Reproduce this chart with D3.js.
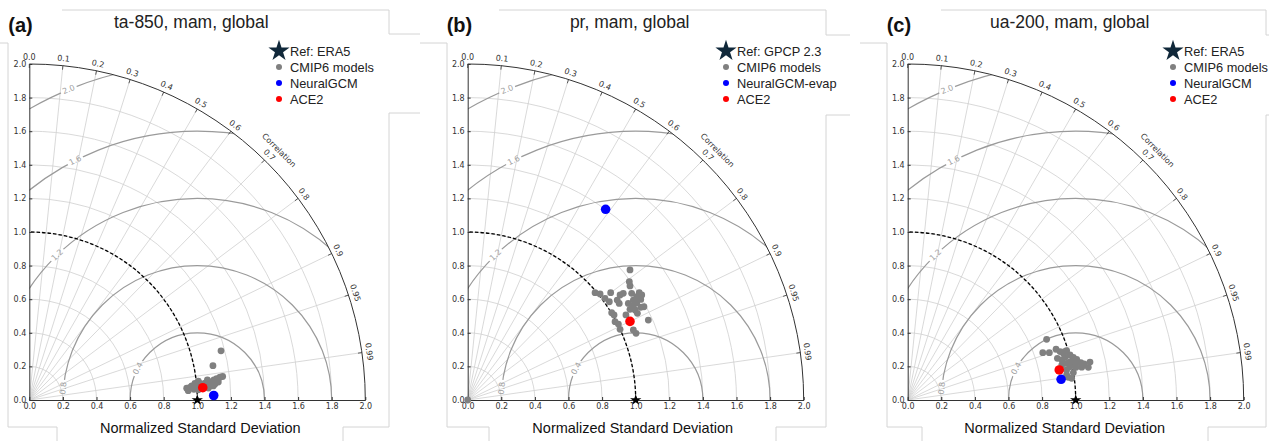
<!DOCTYPE html>
<html>
<head>
<meta charset="utf-8">
<script src="https://cdn.jsdelivr.net/npm/d3@7"></script>
<style>
  body { margin: 0; background: #fff; }
  svg { display: block; font-family: "Liberation Sans", Arial, sans-serif; }
  .axis text, .corr-label, .rms-label { font-family: "DejaVu Sans", sans-serif; font-size: 8px; }
  .axis text { fill: #333; }
</style>
</head>
<body>
<svg width="1269" height="441"></svg>
<script>
// ---- chart data: every model point is [normalized std, correlation] ----
const panelLetters = ["(a)", "(b)", "(c)"];
const panelTitles = ["ta-850, mam, global", "pr, mam, global", "ua-200, mam, global"];
const refNames = ["Ref: ERA5", "Ref: GPCP 2.3", "Ref: ERA5"];
const neuralNames = ["NeuralGCM", "NeuralGCM-evap", "NeuralGCM"];

const cmip6A = [
  [1.178, 0.9687], [1.112, 0.983], [0.9396, 0.9972], [0.9599, 0.9969], [0.982, 0.9979],
  [0.9998, 0.9962], [1.0208, 0.9953], [1.0667, 0.9937], [1.0853, 0.9951], [1.1054, 0.9941],
  [1.1222, 0.9935], [1.143, 0.9929], [1.1594, 0.9927], [1.1301, 0.9955], [1.1091, 0.9963],
  [1.0835, 0.9968], [1.0684, 0.9978], [0.991, 0.995], [1.0121, 0.9939], [0.9706, 0.9963],
  [1.0387, 0.9974], [0.9476, 0.9983], [1.0078, 0.9982], [1.0507, 0.9955], [1.0981, 0.9971]
];
const neuralA = [1.098, 0.9997];
const ace2A = [1.035, 0.9975];

const cmip6B = [
  [0.0, 0.9], [1.2379, 0.7804], [1.1921, 0.807], [1.1808, 0.8181], [0.9914, 0.7646],
  [1.0095, 0.7806], [1.0642, 0.7997], [1.1015, 0.8234], [1.1228, 0.8247], [1.1644, 0.8382],
  [1.2045, 0.8477], [1.2099, 0.8563], [1.1915, 0.8645], [1.1607, 0.8667], [1.1516, 0.8562],
  [1.0706, 0.8313], [1.0697, 0.8432], [1.0166, 0.8037], [1.0261, 0.8216], [1.0024, 0.8549],
  [1.0073, 0.8647], [1.0693, 0.8809], [1.1339, 0.8696], [1.1311, 0.8806], [1.1342, 0.8905],
  [1.1686, 0.8814], [1.1868, 0.8839], [1.1757, 0.9144], [0.9931, 0.8831], [1.0044, 0.8931],
  [0.9999, 0.9071], [1.0706, 0.921], [1.0778, 0.9297], [1.1067, 0.8729], [1.1156, 0.857],
  [1.1791, 0.8532]
];
const neuralB = [1.401, 0.586];
const ace2B = [1.0734, 0.900];

const cmip6C = [
  [0.9023, 0.9165], [0.852, 0.9437], [0.8889, 0.9484], [0.9332, 0.9462], [0.9516, 0.9531],
  [0.9668, 0.9578], [0.9906, 0.955], [1.0025, 0.9636], [1.0182, 0.9684], [1.0347, 0.9723],
  [1.0537, 0.9775], [1.0716, 0.9798], [1.1083, 0.979], [1.0925, 0.984], [1.0542, 0.9827],
  [1.0208, 0.9816], [0.9861, 0.9796], [0.9708, 0.9745], [0.9698, 0.9651], [0.9474, 0.9679],
  [0.9249, 0.9634], [0.9628, 0.9826], [0.9994, 0.9866], [0.9577, 0.9878], [0.9845, 0.9914],
  [0.9655, 0.9902], [0.9403, 0.9752], [1.0204, 0.9761], [0.9926, 0.9732], [0.9793, 0.9558]
];
const neuralC = [0.9213, 0.991];
const ace2C = [0.9196, 0.9809];

const corrTicks = [0, 0.1, 0.2, 0.3, 0.4, 0.5, 0.6, 0.7, 0.8, 0.9, 0.95, 0.99];
const stdTicks = [0, 0.2, 0.4, 0.6, 0.8, 1.0, 1.2, 1.4, 1.6, 1.8, 2.0];
const rmsLevels = [0.4, 0.8, 1.2, 1.6, 2.0];
const refStd = 1.0;

const cmip6 = [cmip6A, cmip6B, cmip6C];
const neural = [neuralA, neuralB, neuralC];
const ace2 = [ace2A, ace2B, ace2C];

// ---- layout ----
const svg = d3.select("svg");
const R = 336, oy = 400;
const layout = [
  { ox: 29.3, legX: 279, xlabDx: 171 },
  { ox: 467.7, legX: 726, xlabDx: 165 },
  { ox: 907.7, legX: 1173, xlabDx: 157 }
];
// where the rms labels sit on their contour (degrees around the reference point)
const rmsLabelAngle = { 0.4: 152, 0.8: 175, 1.2: 134, 1.6: 117, 2.0: 112.5 };

// light frame pieces left over from the assembled figure
const frames = [
  ["M62,10H389V34H420", "M0,43H8V427H57V441", "M389,113H420", "M389,113V427H343V441"],
  ["M499,10H826V35H850", "M420,43H447V427H489V441", "M826,115H850", "M826,115V427H776V441"],
  ["M941,10H1266V35H1269", "M860,43H887V427H922V441", "M1266,115H1269", "M1266,115V427H1208V441"]
];
frames.flat().forEach((d) => {
  svg.append("path").attr("d", d).attr("fill", "none").attr("stroke", "#d4d4d4").attr("stroke-width", 1);
});

const r = d3.scaleLinear().domain([0, 2]).range([0, R]);
const yScale = d3.scaleLinear().domain([0, 2]).range([0, -R]);
const pos = (s, c) => {
  const t = Math.acos(c);
  return [r(s) * Math.cos(t), -r(s) * Math.sin(t)];
};
const deg = (a) => (a * 180) / Math.PI;

layout.forEach((L, i) => {
  const g = svg.append("g").attr("transform", `translate(${L.ox},${oy})`);
  const defs = g.append("defs");

  // quarter disc clip
  defs.append("clipPath").attr("id", "clip" + i)
    .append("path").attr("d", `M0,0H${R}A${R},${R} 0 0 0 0,${-R}Z`);

  // std grid arcs
  g.append("g").selectAll("path")
    .data(stdTicks.filter((s) => s > 0 && s < 2))
    .join("path")
    .attr("d", (s) => {
      const p = d3.path();
      p.moveTo(r(s), 0);
      p.arc(0, 0, r(s), 0, -Math.PI / 2, true);
      return p.toString();
    })
    .attr("fill", "none").attr("stroke", "#cfcfcf").attr("stroke-width", 0.8);

  // correlation grid lines
  g.append("g").selectAll("line")
    .data(corrTicks.filter((c) => c > 0))
    .join("line")
    .attr("x1", 0).attr("y1", 0)
    .attr("x2", (c) => pos(2, c)[0])
    .attr("y2", (c) => pos(2, c)[1])
    .attr("stroke", "#cfcfcf").attr("stroke-width", 0.8);

  // rms contour labels and the gaps they cut into the contours
  const labelPos = (lv) => {
    const a = (rmsLabelAngle[lv] * Math.PI) / 180;
    return [r(refStd) + r(lv) * Math.cos(a), -r(lv) * Math.sin(a), 90 - rmsLabelAngle[lv]];
  };
  const mask = defs.append("mask").attr("id", "mask" + i)
    .attr("maskUnits", "userSpaceOnUse")
    .attr("x", -60).attr("y", -420).attr("width", 500).attr("height", 480);
  mask.append("rect").attr("x", -60).attr("y", -420).attr("width", 500).attr("height", 480).attr("fill", "#fff");
  mask.selectAll("rect.gap")
    .data(rmsLevels)
    .join("rect").attr("class", "gap")
    .attr("x", -8.5).attr("y", -4).attr("width", 17).attr("height", 8)
    .attr("fill", "#000")
    .attr("transform", (lv) => {
      const [x, y, rot] = labelPos(lv);
      return `translate(${x},${y}) rotate(${rot})`;
    });

  g.append("g")
    .attr("clip-path", `url(#clip${i})`)
    .attr("mask", `url(#mask${i})`)
    .selectAll("circle")
    .data(rmsLevels)
    .join("circle")
    .attr("cx", r(refStd)).attr("cy", 0)
    .attr("r", (lv) => r(lv))
    .attr("fill", "none").attr("stroke", "#9a9a9a").attr("stroke-width", 1.2);

  g.append("g").selectAll("text")
    .data(rmsLevels)
    .join("text").attr("class", "rms-label")
    .attr("transform", (lv) => {
      const [x, y, rot] = labelPos(lv);
      return `translate(${x},${y}) rotate(${rot})`;
    })
    .attr("text-anchor", "middle").attr("dominant-baseline", "central")
    .attr("fill", "#a0a0a0")
    .text((lv) => lv.toFixed(1));

  // reference std arc
  const refArc = d3.path();
  refArc.moveTo(r(refStd), 0);
  refArc.arc(0, 0, r(refStd), 0, -Math.PI / 2, true);
  g.append("path").attr("d", refArc.toString())
    .attr("fill", "none").attr("stroke", "#000").attr("stroke-width", 1.3)
    .attr("stroke-dasharray", "3.5,2");

  // outer arc
  const outer = d3.path();
  outer.moveTo(R, 0);
  outer.arc(0, 0, R, 0, -Math.PI / 2, true);
  g.append("path").attr("d", outer.toString())
    .attr("fill", "none").attr("stroke", "#333").attr("stroke-width", 1);

  // correlation ticks and labels
  g.append("g").selectAll("line")
    .data(corrTicks)
    .join("line")
    .attr("x1", (c) => pos(2 - 4 / 168, c)[0]).attr("y1", (c) => pos(2 - 4 / 168, c)[1])
    .attr("x2", (c) => pos(2, c)[0]).attr("y2", (c) => pos(2, c)[1])
    .attr("stroke", "#333").attr("stroke-width", 0.8);

  g.append("g").selectAll("text")
    .data(corrTicks)
    .join("text").attr("class", "corr-label")
    .attr("transform", (c) => {
      const [x, y] = pos(2 + 7 / 168, c);
      return `translate(${x},${y}) rotate(${90 - deg(Math.acos(c))})`;
    })
    .attr("text-anchor", "middle").attr("dominant-baseline", "central")
    .attr("fill", "#333")
    .text((c) => String(c.toFixed(c === 0.95 || c === 0.99 ? 2 : 1)));

  const cLab = pos(2 + 17 / 168, Math.cos(Math.PI / 4));
  g.append("text").attr("class", "corr-label")
    .attr("transform", `translate(${cLab[0]},${cLab[1]}) rotate(45)`)
    .attr("text-anchor", "middle").attr("dominant-baseline", "central")
    .attr("fill", "#333")
    .text("Correlation");

  // axes
  g.append("g").attr("class", "axis")
    .call(d3.axisLeft(yScale).tickValues(stdTicks).tickFormat(d3.format(".1f"))
      .tickSize(-3).tickSizeOuter(0).tickPadding(3))
    .call((a) => a.selectAll("line, path").attr("stroke", "#333"));
  g.append("g").attr("class", "axis")
    .call(d3.axisBottom(r).tickValues(stdTicks).tickFormat(d3.format(".1f"))
      .tickSize(-3).tickSizeOuter(0).tickPadding(3))
    .call((a) => a.selectAll("line, path").attr("stroke", "#333"));

  // model points
  g.append("g").selectAll("circle")
    .data(cmip6[i])
    .join("circle")
    .attr("cx", (d) => pos(d[0], d[1])[0])
    .attr("cy", (d) => pos(d[0], d[1])[1])
    .attr("r", 3.4).attr("fill", "#808080");

  [[neural[i], "#0000ff"], [ace2[i], "#ff0000"]].forEach(([d, col]) => {
    g.append("circle")
      .attr("cx", pos(d[0], d[1])[0]).attr("cy", pos(d[0], d[1])[1])
      .attr("r", 4.8).attr("fill", col);
  });

  // reference star
  g.append("path")
    .attr("d", d3.symbol(d3.symbolStar, 40)())
    .attr("transform", `translate(${r(refStd)},0)`)
    .attr("fill", "#000");

  // titles
  svg.append("text")
    .attr("x", L.ox - 21).attr("y", 32)
    .attr("font-size", 20).attr("font-weight", "bold").attr("fill", "#111")
    .text(panelLetters[i]);
  svg.append("text")
    .attr("x", L.ox + 162).attr("y", 28)
    .attr("text-anchor", "middle").attr("font-size", 17.5).attr("fill", "#222")
    .text(panelTitles[i]);
  svg.append("text")
    .attr("x", L.ox + L.xlabDx).attr("y", 433)
    .attr("text-anchor", "middle").attr("font-size", 14.5).attr("fill", "#111")
    .text("Normalized Standard Deviation");

  // legend
  const legRows = [
    { name: refNames[i], kind: "star", color: "#10283a" },
    { name: "CMIP6 models", kind: "dot", color: "#808080" },
    { name: neuralNames[i], kind: "dot", color: "#0000ff" },
    { name: "ACE2", kind: "dot", color: "#ff0000" }
  ];
  const leg = svg.append("g").attr("transform", `translate(${L.legX},51)`);
  legRows.forEach((row, k) => {
    const y = k * 16;
    if (row.kind === "star") {
      leg.append("path")
        .attr("d", d3.symbol(d3.symbolStar, 140)())
        .attr("transform", `translate(0,${y})`)
        .attr("fill", row.color);
    } else {
      leg.append("circle").attr("cx", 0).attr("cy", y).attr("r", 3).attr("fill", row.color);
    }
    leg.append("text")
      .attr("x", 11).attr("y", y)
      .attr("dominant-baseline", "central")
      .attr("font-size", 12.8).attr("fill", "#222")
      .text(row.name);
  });
});
</script>
</body>
</html>
